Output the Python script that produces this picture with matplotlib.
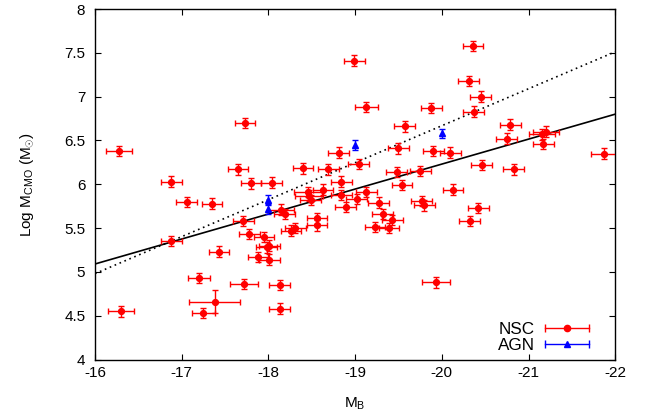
import numpy as np
import matplotlib
matplotlib.use('Agg')
import matplotlib.pyplot as plt
from matplotlib.lines import Line2D
from matplotlib.legend_handler import HandlerBase

plt.rcParams['font.family'] = ['Liberation Sans', 'DejaVu Sans']
plt.rcParams['mathtext.fontset'] = 'custom'
plt.rcParams['mathtext.rm'] = 'Liberation Sans'
plt.rcParams['mathtext.it'] = 'Liberation Sans'
plt.rcParams['axes.unicode_minus'] = False

# NSC sample: absolute B magnitude vs log mass
nsc_mb = [-18.99, -19.13, -16.28, -17.73, -17.65, -16.88, -17.80, -18.04, -18.40, -18.69,
          -18.81, -19.04, -18.84, -20.36, -20.31, -20.45, -19.88, -20.37, -19.57, -20.79,
          -21.20, -21.15, -20.75, -21.17, -19.50, -19.90, -20.10, -21.87, -20.46, -20.83,
          -19.48, -19.75, -19.54, -20.13, -17.06, -17.35, -18.15, -18.19, -18.46, -18.47,
          -18.63, -18.49, -18.84, -18.89, -19.02, -19.13, -17.71, -16.88, -17.78, -17.95,
          -18.56, -18.56, -18.26, -18.31, -18.01, -17.98, -17.43, -17.88, -18.01, -17.20,
          -17.72, -18.13, -17.38, -17.25, -18.13, -16.30, -19.27, -19.77, -19.80, -19.32,
          -19.43, -19.23, -19.39, -20.42, -20.32, -19.93]
nsc_logm = [7.41, 6.88, 6.38, 6.70, 6.17, 6.03, 6.01, 6.02, 6.18, 6.17,
            6.36, 6.23, 6.03, 7.58, 7.18, 7.00, 6.87, 6.83, 6.66, 6.68,
            6.60, 6.57, 6.52, 6.46, 6.41, 6.38, 6.36, 6.35, 6.22, 6.17,
            6.14, 6.15, 5.99, 5.94, 5.80, 5.78, 5.71, 5.66, 5.91, 5.87,
            5.94, 5.82, 5.88, 5.74, 5.83, 5.91, 5.58, 5.35, 5.43, 5.40,
            5.61, 5.53, 5.47, 5.50, 5.30, 5.28, 5.23, 5.17, 5.14, 4.93,
            4.86, 4.85, 4.66, 4.53, 4.58, 4.55, 5.79, 5.81, 5.76, 5.66,
            5.59, 5.51, 5.50, 5.73, 5.58, 4.88]
nsc_xerr = [0.12, 0.13, 0.15, 0.12, 0.12, 0.12, 0.12, 0.12, 0.12, 0.12,
            0.12, 0.12, 0.12, 0.12, 0.12, 0.12, 0.12, 0.12, 0.12, 0.12,
            0.15, 0.15, 0.12, 0.12, 0.12, 0.12, 0.12, 0.15, 0.12, 0.12,
            0.12, 0.12, 0.12, 0.12, 0.12, 0.12, 0.15, 0.12, 0.16, 0.16,
            0.12, 0.12, 0.12, 0.12, 0.12, 0.12, 0.12, 0.12, 0.12, 0.12,
            0.12, 0.12, 0.12, 0.12, 0.12, 0.12, 0.12, 0.12, 0.12, 0.13,
            0.16, 0.12, 0.29, 0.13, 0.12, 0.15, 0.12, 0.12, 0.12, 0.12,
            0.12, 0.12, 0.12, 0.12, 0.12, 0.16]
nsc_yerr = [0.06] * len(nsc_mb)
nsc_yerr[62] = 0.13

# AGN sample
agn_mb = [-18.0, -18.0, -19.0, -20.0]
agn_logm = [5.82, 5.72, 6.45, 6.58]
agn_yerr = [0.06, 0.06, 0.06, 0.05]

# linear fits: logM = a + b * (MB + 16)
fit_solid = (5.09, -0.285)
fit_dotted = (4.98, -0.422)


class ErrHandler(HandlerBase):
    def create_artists(self, legend, orig, xd, yd, w, h, fs, trans):
        y = (h - yd) / 2.0
        c = orig.get_color()
        bar = Line2D([-xd, -xd + w], [y, y], color=c, lw=1.0)
        caps = Line2D([-xd, -xd + w], [y, y], color=c, ls='none', marker='|', ms=6, mew=1.0)
        mk = Line2D([-xd + w / 2], [y], color=c, ls='none', marker=orig.get_marker(), ms=4.5)
        for a in (bar, caps, mk):
            a.set_transform(trans)
        return [bar, caps, mk]


fig = plt.figure(figsize=(6.47, 4.19), dpi=100)
ax = fig.add_axes([0.1468, 0.142, 0.9509 - 0.1468, 0.9785 - 0.142])

xx = np.array([-16.0, -22.0])
ax.plot(xx, fit_solid[0] + fit_solid[1] * (xx + 16), color='black', lw=1.2)
ax.plot(xx, fit_dotted[0] + fit_dotted[1] * (xx + 16), color='black', lw=1.2, ls=(0, (1, 2.2)))

ax.errorbar(nsc_mb, nsc_logm, xerr=nsc_xerr, yerr=nsc_yerr, fmt='o', color='red',
            ms=4.2, elinewidth=1.0, capsize=2.5, capthick=1.0, zorder=3)
ax.errorbar(agn_mb, agn_logm, yerr=agn_yerr, fmt='^', color='blue',
            ms=5, elinewidth=1.0, capsize=2.5, capthick=1.0, zorder=4)

ax.set_xlim(-16, -22)
ax.set_ylim(4, 8)
ax.set_xticks([-16, -17, -18, -19, -20, -21, -22])
ax.set_xticklabels(['-16', '-17', '-18', '-19', '-20', '-21', '-22'])
ax.set_yticks(np.arange(4, 8.01, 0.5))
ax.set_yticklabels(['4', '4.5', '5', '5.5', '6', '6.5', '7', '7.5', '8'])
ax.tick_params(direction='in', top=True, right=True, length=4, width=0.8, labelsize=11)
ax.tick_params(axis='x', pad=5)
ax.tick_params(axis='y', pad=7)
for s in ax.spines.values():
    s.set_linewidth(1.0)

ax.set_xlabel(r'M$_{\mathregular{B}}$', fontsize=11, labelpad=11)
ax.set_ylabel(r'Log M$_{\mathregular{CMO}}$ (M$_{\odot}$)', fontsize=11, labelpad=20)

handles = [Line2D([], [], color='red', marker='o'), Line2D([], [], color='blue', marker='^')]
ax.legend(handles, ['NSC', 'AGN'], loc='lower right', frameon=False, markerfirst=False,
          handler_map={Line2D: ErrHandler()}, fontsize=12.3, handlelength=2.6,
          labelspacing=0.05, handletextpad=0.6, borderaxespad=0.3,
          bbox_to_anchor=(1 - 14 / 520, -5 / 350))

fig.savefig('out.png', dpi=100)
